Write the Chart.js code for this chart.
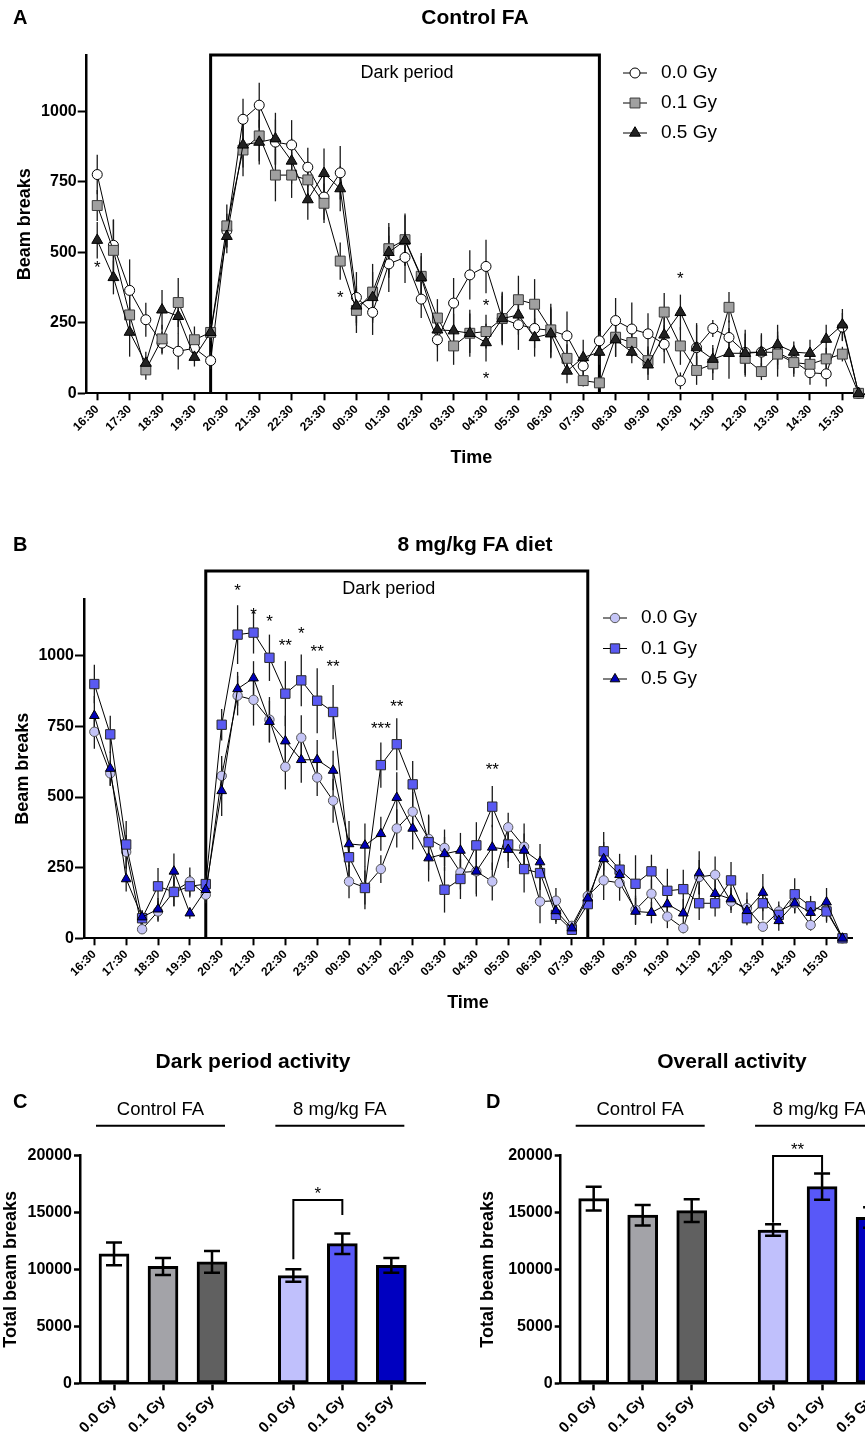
<!DOCTYPE html>
<html><head><meta charset="utf-8">
<script src="https://cdn.jsdelivr.net/npm/chart.js@4.4.0/dist/chart.umd.min.js"></script>
<style>
html,body{margin:0;padding:0;background:#fff;overflow:hidden;width:865px;height:1444px;position:relative;}
canvas{position:absolute;}
</style></head><body>
<canvas id="cA" width="865" height="480" style="left:0;top:0"></canvas>
<canvas id="cB" width="865" height="520" style="left:0;top:500px"></canvas>
<canvas id="cC" width="430" height="414" style="left:0;top:1030px"></canvas>
<canvas id="cD" width="470" height="414" style="left:430px;top:1030px"></canvas>
<script>
// ===================== DATA =====================
const timePoints = ['16:30','17:00','17:30','18:00','18:30','19:00','19:30','20:00','20:30','21:00','21:30','22:00','22:30','23:00','23:30','00:00','00:30','01:00','01:30','02:00','02:30','03:00','03:30','04:00','04:30','05:00','05:30','06:00','06:30','07:00','07:30','08:00','08:30','09:00','09:30','10:00','10:30','11:00','11:30','12:00','12:30','13:00','13:30','14:00','14:30','15:00','15:30','16:00'];
const hourTickLabels = ['16:30','17:30','18:30','19:30','20:30','21:30','22:30','23:30','00:30','01:30','02:30','03:30','04:30','05:30','06:30','07:30','08:30','09:30','10:30','11:30','12:30','13:30','14:30','15:30'];
const beamTicks = [0,250,500,750,1000];
const totalTicks = [0,5000,10000,15000,20000];
const doseNames = ['0.0 Gy','0.1 Gy','0.5 Gy'];
const darkStart = '20:00';
const darkEnd = '08:00';

// Panel A - Control FA
const ctrl00 = [776,525,365,261,178,149,160,116,577,972,1022,891,881,802,696,782,340,287,459,482,334,190,320,420,450,265,243,230,223,204,97,186,258,228,211,174,44,162,230,198,145,146,145,115,73,69,235,0];
const ctrl01 = [666,507,278,83,193,322,190,216,594,863,913,774,774,757,674,469,294,359,513,545,415,267,168,213,219,265,332,316,225,124,45,37,199,180,116,288,168,81,104,305,124,77,139,109,103,122,139,0];
const ctrl05 = [543,411,217,107,296,273,128,216,557,881,891,903,824,687,780,726,310,340,500,542,411,225,222,213,180,265,278,198,211,79,127,146,190,146,101,207,287,162,121,142,142,146,172,146,142,192,243,0];
const ctrl00Err = [70,90,110,60,40,65,30,30,60,73,80,80,88,69,80,95,90,80,100,91,67,77,89,87,95,95,89,70,95,86,40,35,80,94,73,67,30,87,30,60,80,67,60,56,43,45,50,0];
const ctrl01Err = [55,110,70,35,50,87,47,30,76,93,90,93,81,60,70,66,80,100,91,93,83,67,67,83,60,90,85,89,80,50,21,20,70,50,50,68,67,51,57,54,65,30,80,40,40,40,26,0];
const ctrl05Err = [65,60,87,40,70,60,33,30,60,80,79,92,80,71,88,80,70,90,90,90,75,60,60,70,67,80,70,68,87,43,63,45,60,39,54,60,63,80,50,90,70,60,71,38,48,51,56,0];
const ctrlSig = [
  {time:'16:30', y:456, mark:'*'},
  {time:'00:00', y:351, mark:'*'},
  {time:'04:30', y:324, mark:'*'},
  {time:'04:30', y:63, mark:'*'},
  {time:'10:30', y:417, mark:'*'}
];

// Panel B - 8 mg/kg FA diet
const fa00 = [731,584,306,32,95,166,201,154,575,859,844,774,607,710,569,487,201,180,245,389,448,352,320,233,237,201,393,324,130,133,44,150,205,196,101,158,77,36,217,225,130,107,41,95,124,47,101,0];
const fa01 = [900,722,332,71,184,164,184,192,756,1075,1082,993,866,913,841,801,287,178,613,687,545,340,172,210,329,466,332,245,231,83,30,121,308,243,193,237,168,174,124,124,205,71,124,83,156,113,95,0];
const fa05 = [788,601,210,75,103,237,89,172,522,883,921,767,698,632,632,594,334,329,370,498,389,284,299,311,237,322,314,311,270,97,36,142,281,225,95,91,121,89,231,158,139,98,162,62,124,91,128,0];
const fa00Err = [60,45,60,15,36,53,50,30,70,70,91,80,80,80,65,78,59,60,49,68,70,80,65,60,89,67,51,82,77,45,10,20,69,63,50,50,41,18,60,65,40,55,15,35,35,20,40,0];
const fa01Err = [68,66,83,25,65,50,40,30,56,104,74,82,115,92,115,96,70,75,80,92,83,98,81,71,82,73,60,83,60,32,10,20,68,56,101,59,78,69,59,47,65,25,60,35,57,37,40,0];
const fa05Err = [70,60,44,25,40,63,20,30,89,60,60,74,90,81,70,70,81,77,60,90,75,83,60,62,80,80,65,60,64,40,10,20,60,50,48,38,50,50,77,50,40,40,66,35,35,40,50,0];
const faSig = [
  {time:'21:00', y:1241, mark:'*'},
  {time:'21:30', y:1159, mark:'*'},
  {time:'22:00', y:1134, mark:'*'},
  {time:'22:30', y:1049, mark:'**'},
  {time:'23:00', y:1090, mark:'*'},
  {time:'23:30', y:1025, mark:'**'},
  {time:'00:00', y:972, mark:'**'},
  {time:'01:30', y:755, mark:'***'},
  {time:'02:00', y:833, mark:'**'},
  {time:'05:00', y:610, mark:'**'}
];

// Panels C & D - totals
const barDoses = ['0.0 Gy','0.1 Gy','0.5 Gy','0.0 Gy','0.1 Gy','0.5 Gy'];
const barGroups = ['Control FA','8 mg/kg FA'];
const darkTotal = [11350,10250,10650,9450,12250,10350];
const darkTotalErr = [1000,750,950,550,900,650];
const overallTotal = [16200,14750,15150,13450,17250,14550];
const overallTotalErr = [1050,900,1000,500,1150,900];
const darkBracket = {left:3, right:4, top:16080, leftEnd:10877, rightEnd:14766, mark:'*', markY:16900};
const overallBracket = {left:3, right:4, top:19940, leftEnd:14093, rightEnd:18480, mark:'**', markY:20800};

// ===================== RENDER =====================
const FONT = "'Liberation Sans', Arial, Helvetica, sans-serif";
Chart.defaults.font.family = FONT;
Chart.defaults.color = '#000';

function txt(ctx, s, x, y, font, align, base){
  ctx.save(); ctx.font = font; ctx.fillStyle = '#000';
  ctx.textAlign = align || 'center'; ctx.textBaseline = base || 'middle';
  ctx.fillText(s, x, y); ctx.restore();
}

const darkBoxPlugin = {
  id: 'darkBox',
  beforeDatasetsDraw(chart, args, o){
    if (!o || o.top === undefined) return;
    const ctx = chart.ctx, xs = chart.scales.x, ys = chart.scales.y;
    const x1 = xs.getPixelForValue(timePoints.indexOf(darkStart));
    const x2 = xs.getPixelForValue(timePoints.indexOf(darkEnd));
    const yb = ys.getPixelForValue(0), yt = ys.getPixelForValue(o.top);
    ctx.save(); ctx.strokeStyle = '#000'; ctx.lineWidth = 3; ctx.lineJoin = 'miter';
    ctx.beginPath(); ctx.moveTo(x1, yb); ctx.lineTo(x1, yt); ctx.lineTo(x2, yt); ctx.lineTo(x2, yb); ctx.stroke();
    txt(ctx, 'Dark period', (x1 + x2) / 2 + o.labelShift, yt + 18, '18px ' + FONT);
    ctx.restore();
  }
};

const errBarPlugin = {
  id: 'errBars',
  beforeDatasetsDraw(chart, args, o){
    if (!o || !o.errs) return;
    const ctx = chart.ctx, ys = chart.scales.y;
    ctx.save(); ctx.strokeStyle = '#1a1a1a'; ctx.lineWidth = 1.3;
    chart.data.datasets.forEach((ds, di) => {
      const meta = chart.getDatasetMeta(di), e = o.errs[di];
      meta.data.forEach((pt, i) => {
        if (!e[i]) return;
        const v = ds.data[i].y;
        ctx.beginPath();
        ctx.moveTo(pt.x, ys.getPixelForValue(v + e[i]));
        ctx.lineTo(pt.x, ys.getPixelForValue(Math.max(0, v - e[i])));
        ctx.stroke();
      });
    });
    ctx.restore();
  }
};

const lineDecoPlugin = {
  id: 'lineDeco',
  beforeDatasetsDraw(chart, args, o){
    // continue the time axis to the panel edge
    const ctx = chart.ctx, a = chart.chartArea;
    if (o.axisTo > a.right) {
      ctx.save(); ctx.strokeStyle = '#000'; ctx.lineWidth = 2;
      ctx.beginPath(); ctx.moveTo(a.right - 1, a.bottom + 1); ctx.lineTo(o.axisTo, a.bottom + 1); ctx.stroke();
      ctx.restore();
    }
  },
  afterDraw(chart, args, o){
    const ctx = chart.ctx, xs = chart.scales.x, ys = chart.scales.y;
    txt(ctx, o.letter, 13, o.titleY, 'bold 20px ' + FONT, 'left');
    txt(ctx, o.title, 475, o.titleY, 'bold 21px ' + FONT);
    o.sig.forEach(s => {
      txt(ctx, s.mark, xs.getPixelForValue(timePoints.indexOf(s.time)), ys.getPixelForValue(s.y) + 4, '17px ' + FONT);
    });
    chart.data.datasets.forEach((ds, i) => {
      const y = o.legY + i * o.legDy, x = o.legX;
      ctx.save();
      ctx.strokeStyle = '#000'; ctx.lineWidth = 1;
      ctx.beginPath(); ctx.moveTo(x, y); ctx.lineTo(x + 24, y); ctx.stroke();
      ctx.fillStyle = ds.pointBackgroundColor; ctx.strokeStyle = ds.pointBorderColor; ctx.lineWidth = 1;
      Chart.helpers.drawPoint(ctx, {pointStyle: ds.pointStyle, radius: ds.pointRadius, rotation: 0, borderWidth: 1}, x + 12, y);
      ctx.restore();
      txt(ctx, ds.label, x + 38, y, '19px ' + FONT, 'left');
    });
  }
};

function makeLine(id, cfg){
  const datasets = cfg.values.map((vals, k) => ({
    label: doseNames[k],
    data: vals.map((v, i) => ({x: i, y: v})),
    borderColor: '#000', borderWidth: 1, tension: 0,
    pointStyle: cfg.marks[k].style, pointRadius: cfg.marks[k].r, pointHoverRadius: cfg.marks[k].r,
    pointBackgroundColor: cfg.marks[k].fill, pointBorderColor: cfg.marks[k].stroke, pointBorderWidth: 1,
    order: 2 - k, clip: false
  }));
  return new Chart(document.getElementById(id), {
    type: 'line',
    data: {datasets},
    options: {
      responsive: false, animation: false, devicePixelRatio: 1,
      layout: {padding: {top: cfg.padTop, right: cfg.padRight, left: 0, bottom: 0}},
      plugins: {
        legend: {display: false}, tooltip: {enabled: false},
        darkBox: {top: cfg.boxTop, labelShift: cfg.labelShift},
        errBars: {errs: cfg.errs},
        lineDeco: cfg.deco
      },
      scales: {
        x: {
          type: 'linear', min: -0.65, max: cfg.xMax,
          afterBuildTicks: s => { s.ticks = hourTickLabels.map(l => ({value: timePoints.indexOf(l)})); },
          afterFit: s => { s.height = cfg.xH; },
          ticks: {autoSkip: false, minRotation: 45, maxRotation: 45, font: {size: 12, weight: 'bold'}, color: '#000', padding: 2,
                  callback: (v, i) => hourTickLabels[i]},
          grid: {drawOnChartArea: false, tickLength: 7, tickWidth: 2, tickColor: '#000'},
          border: {color: '#000', width: 2},
          title: {display: true, text: 'Time', font: {size: 18, weight: 'bold'}, color: '#000', padding: {top: 0, bottom: cfg.timePad}}
        },
        y: {
          min: 0, max: 1200,
          afterBuildTicks: s => { s.ticks = beamTicks.map(v => ({value: v})); },
          afterFit: s => { s.width = cfg.yW; },
          ticks: {font: {size: 16, weight: 'bold'}, color: '#000', padding: 1, callback: v => String(v)},
          grid: {drawOnChartArea: false, tickLength: 9, tickWidth: 2, tickColor: '#000'},
          border: {color: '#000', width: 2.5},
          title: {display: true, text: 'Beam breaks', font: {size: 18, weight: 'bold'}, color: '#000', padding: {top: cfg.yTitlePad, bottom: 0}}
        }
      }
    },
    plugins: [darkBoxPlugin, errBarPlugin, lineDecoPlugin]
  });
}

makeLine('cA', {
  values: [ctrl00, ctrl01, ctrl05], errs: [ctrl00Err, ctrl01Err, ctrl05Err],
  marks: [
    {style: 'circle', r: 5, fill: '#ffffff', stroke: '#000'},
    {style: 'rect', r: 7, fill: '#a0a0a0', stroke: '#3a3a3a'},
    {style: 'triangle', r: 6.3, fill: '#222222', stroke: '#000'}
  ],
  padTop: 55, padRight: 9, xMax: 46.84, xH: 86.7, yW: 86.7, timePad: 11, yTitlePad: 14,
  boxTop: 1200, labelShift: 2,
  deco: {letter: 'A', title: 'Control FA', titleY: 18, sig: ctrlSig, legX: 623, legY: 73, legDy: 30, axisTo: 865}
});

makeLine('cB', {
  values: [fa00, fa01, fa05], errs: [fa00Err, fa01Err, fa05Err],
  marks: [
    {style: 'circle', r: 4.7, fill: '#c4c4f6', stroke: '#555'},
    {style: 'rect', r: 6.6, fill: '#5a5af2', stroke: '#2a2a2a'},
    {style: 'triangle', r: 5.6, fill: '#0000b8', stroke: '#000'}
  ],
  padTop: 99.3, padRight: 13, xMax: 47.6, xH: 81.7, yW: 84, timePad: 6, yTitlePad: 12,
  boxTop: 1300, labelShift: -8,
  deco: {letter: 'B', title: '8 mg/kg FA diet', titleY: 45, sig: faSig, legX: 603, legY: 118, legDy: 30.5, axisTo: 0}
});

// ---------- bar panels ----------
const groupGap = 1.66;
const barPos = barDoses.map((_, i) => i + (i >= 3 ? groupGap - 1 : 0));
const barColors = ['#ffffff', '#a3a3a8', '#606060', '#c0c0fc', '#5858f8', '#0000c0'];

const barDecoPlugin = {
  id: 'barDeco',
  afterDatasetsDraw(chart, args, o){
    const ctx = chart.ctx, xs = chart.scales.x, ys = chart.scales.y;
    const meta = chart.getDatasetMeta(0), ds = chart.data.datasets[0];
    ctx.save(); ctx.strokeStyle = '#000'; ctx.lineWidth = 2.5; ctx.lineCap = 'butt';
    meta.data.forEach((el, i) => {
      const v = ds.data[i].y, e = o.errs[i];
      const yt = ys.getPixelForValue(v + e), yb = ys.getPixelForValue(v - e);
      ctx.beginPath();
      ctx.moveTo(el.x, yt); ctx.lineTo(el.x, yb);
      ctx.moveTo(el.x - 8, yt); ctx.lineTo(el.x + 8, yt);
      ctx.moveTo(el.x - 8, yb); ctx.lineTo(el.x + 8, yb);
      ctx.stroke();
    });
    const b = o.bracket;
    const xl = xs.getPixelForValue(barPos[b.left]), xr = xs.getPixelForValue(barPos[b.right]);
    ctx.lineWidth = 2;
    ctx.beginPath();
    ctx.moveTo(xl, ys.getPixelForValue(b.leftEnd)); ctx.lineTo(xl, ys.getPixelForValue(b.top));
    ctx.lineTo(xr, ys.getPixelForValue(b.top)); ctx.lineTo(xr, ys.getPixelForValue(b.rightEnd));
    ctx.stroke();
    ctx.restore();
    txt(ctx, b.mark, (xl + xr) / 2, ys.getPixelForValue(b.markY) + 4, '17px ' + FONT);
  },
  afterDraw(chart, args, o){
    const ctx = chart.ctx, xs = chart.scales.x;
    txt(ctx, o.title, o.titleX, 32, 'bold 21px ' + FONT);
    txt(ctx, o.letter, o.letterX, 72, 'bold 20px ' + FONT, 'left');
    barGroups.forEach((g, gi) => {
      const x1 = xs.getPixelForValue(barPos[gi * 3]) - 18, x2 = xs.getPixelForValue(barPos[gi * 3 + 2]) + 13;
      ctx.save(); ctx.strokeStyle = '#000'; ctx.lineWidth = 2;
      ctx.beginPath(); ctx.moveTo(x1, 95.7); ctx.lineTo(x2, 95.7); ctx.stroke(); ctx.restore();
      txt(ctx, g, (x1 + x2) / 2, 80, '18.5px ' + FONT);
    });
  }
};

function makeBar(id, cfg){
  return new Chart(document.getElementById(id), {
    type: 'bar',
    data: {datasets: [{
      data: cfg.values.map((v, i) => ({x: barPos[i], y: v})),
      backgroundColor: barColors, borderColor: '#000', borderWidth: 3, borderSkipped: false,
      barThickness: 30
    }]},
    options: {
      responsive: false, animation: false, devicePixelRatio: 1,
      layout: {padding: {top: 125.3, right: cfg.padRight, left: 0, bottom: 0}},
      plugins: {legend: {display: false}, tooltip: {enabled: false}, barDeco: cfg.deco},
      scales: {
        x: {
          type: 'linear', min: cfg.xMin, max: cfg.xMax, offset: false,
          afterBuildTicks: s => { s.ticks = barPos.map(v => ({value: v})); },
          afterFit: s => { s.height = 60.7; },
          ticks: {autoSkip: false, minRotation: 45, maxRotation: 45, font: {size: 15, weight: 'bold'}, color: '#000', padding: 2,
                  callback: (v, i) => barDoses[i]},
          grid: {offset: false, drawOnChartArea: false, tickLength: 7, tickWidth: 2.5, tickColor: '#000'},
          border: {color: '#000', width: 2.5}
        },
        y: {
          min: 0, max: 20000,
          afterBuildTicks: s => { s.ticks = totalTicks.map(v => ({value: v})); },
          afterFit: s => { s.width = cfg.yW; },
          ticks: {font: {size: 16, weight: 'bold'}, color: '#000', padding: 2, callback: v => String(v)},
          grid: {drawOnChartArea: false, tickLength: 6, tickWidth: 2.5, tickColor: '#000'},
          border: {color: '#000', width: 2.5},
          title: {display: true, text: 'Total beam breaks', font: {size: 18, weight: 'bold'}, color: '#000', padding: {top: cfg.yTitlePad, bottom: 0}}
        }
      }
    },
    plugins: [barDecoPlugin]
  });
}

makeBar('cC', {
  values: darkTotal, padRight: 5, xMin: -0.694, xMax: 6.347, yW: 80, yTitlePad: 0,
  deco: {errs: darkTotalErr, bracket: darkBracket, title: 'Dark period activity', titleX: 253, letter: 'C', letterX: 13}
});
makeBar('cD', {
  values: overallTotal, padRight: 0, xMin: -0.673, xMax: 6.25, yW: 130.7, yTitlePad: 47.5,
  deco: {errs: overallTotalErr, bracket: overallBracket, title: 'Overall activity', titleX: 302, letter: 'D', letterX: 56}
});
</script>
</body></html>
